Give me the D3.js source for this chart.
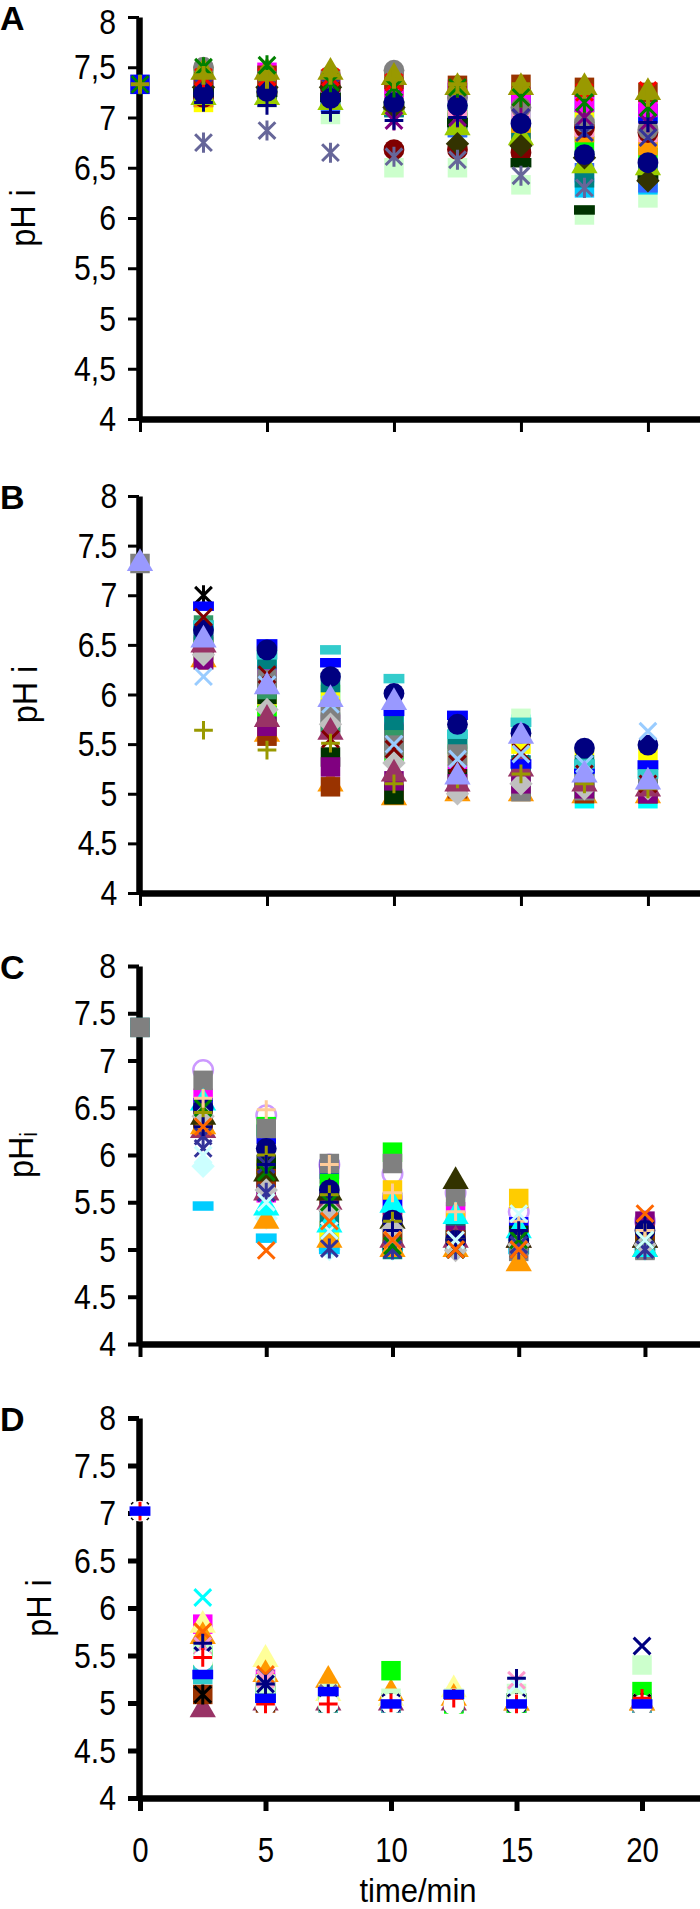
<!DOCTYPE html>
<html>
<head>
<meta charset="utf-8">
<script src="https://cdn.jsdelivr.net/npm/d3@7"></script>
<style>
  body { margin: 0; background: #fff; }
  svg { display: block; font-family: "Liberation Sans", Arial, sans-serif; }
</style>
</head>
<body>
<svg id="chart"></svg>
<script>
// tick values shared by the four panels
let yTicks = [4, 4.5, 5, 5.5, 6, 6.5, 7, 7.5, 8]
let xTicks = [0, 5, 10, 15, 20]

// sampling times (min) of each panel
let timesA = [0, 2.5, 5, 7.5, 10, 12.5, 15, 17.5, 20]
let timesB = [0, 2.5, 5, 7.5, 10, 12.5, 15, 17.5, 20]
let timesC = [0, 2.5, 5, 7.5, 10, 12.5, 15, 20]
let timesD = [0, 2.5, 5, 7.5, 10, 12.5, 15, 20]

// panel A - one row per cell, drawn bottom row first
let markersA = ["palegreen square", "sky square", "cyan square", "yellow square", "lime square",
  "royal square", "blue square", "amber square", "teal square", "rose square", "magenta square",
  "brown square", "darkred circle", "gray circle", "darkgreen dash", "yellowgreen triangle",
  "darkolive diamond", "purple star", "indigo x", "navy circle", "navy plus", "slate star",
  "red star", "olive triangle", "green star", "olive cross"]
let pHA = [
  [null, 7.2, 7.2, 7.03, 6.5, 6.5, 6.33, 6.03, 6.2],
  [null, 7.25, 7.25, 7.2, 7.1, 6.9, 6.8, 6.3, 6.33],
  [null, 7.28, 7.3, 7.25, 7.2, 7.05, 7.05, 7.0, 6.93],
  [null, 7.15, 7.2, 7.2, 7.1, 6.95, 6.85, 6.98, 6.75],
  [null, 7.4, 7.32, 7.3, 7.2, 7.05, 6.9, 6.72, 6.6],
  [null, 7.2, 7.2, 7.15, 7.1, 6.9, 6.75, 6.45, 6.35],
  [7.33, 7.32, 7.36, 7.3, 7.3, 7.25, 7.2, 7.15, 7.04],
  [null, 7.2, 7.25, 7.25, 7.2, 6.98, 6.82, 6.85, 6.72],
  [null, 7.25, 7.25, 7.2, 7.1, 6.95, 6.75, 6.4, 6.45],
  [null, 7.3, 7.35, 7.3, 7.25, 7.1, 7.0, 6.9, 6.85],
  [null, 7.3, 7.45, 7.35, 7.3, 7.28, 7.2, 7.15, 7.1],
  [null, 7.42, 7.42, 7.38, 7.38, 7.32, 7.33, 7.3, 7.25],
  [null, 7.2, 7.25, 7.3, 6.68, 6.68, 6.65, 6.9, 6.85],
  [null, 7.5, 7.42, 7.42, 7.47, 7.2, 7.1, 6.95, 6.88],
  [null, 7.25, 7.25, 7.2, 7.12, 6.95, 6.55, 6.08, 6.41],
  [null, 7.2, 7.2, 7.15, 7.1, 6.9, 6.8, 6.52, 6.5],
  [null, 7.3, 7.3, 7.3, 7.1, 6.74, 6.72, 6.6, 6.37],
  [null, 7.3, 7.3, 7.3, 6.97, 7.0, 7.0, 7.0, 6.95],
  [null, 7.3, 7.3, 7.3, 7.2, 7.2, 7.0, 6.85, 6.8],
  [null, 7.24, 7.26, 7.19, 7.15, 7.12, 6.94, 6.63, 6.55],
  [null, 7.15, 7.12, 7.05, 6.97, 7.0, 6.95, 6.9, 6.95],
  [null, 6.75, 6.87, 6.65, 6.61, 6.58, 6.42, 6.3, null],
  [null, 7.4, 7.4, 7.4, 7.35, 7.3, 7.2, 7.25, 7.27],
  [null, 7.45, 7.45, 7.45, 7.4, 7.3, 7.3, 7.3, 7.25],
  [7.33, 7.5, 7.52, 7.35, 7.3, 7.3, 7.2, 7.15, 7.1],
  [7.33, 7.42, 7.38, 7.42, 7.38, 7.33, 7.33, 7.28, 7.2]
]

// panel B
let markersB = ["black star", "white circle", "amber triangle", "cyan square", "palegreen square",
  "yellow square", "lime square", "magenta square", "brown square", "darkgreen square",
  "seagreen square", "teal square", "gray square", "gray square", "purple square", "silver diamond",
  "plum triangle", "blue dash", "aqua dash", "navy circle", "darkred x", "lightblue x", "olive plus",
  "lavender triangle"]
let pHB = [
  [null, 7.0, 6.4, 6.0, 5.5, 5.4, 5.3, 5.2, 5.2],
  [null, 6.4, 5.9, 5.4, 5.1, 4.99, 5.05, 5.0, 5.0],
  [null, 6.35, 5.6, 5.1, 4.96, 5.0, 5.0, 4.98, 4.98],
  [null, 6.6, 6.25, 6.0, 5.7, 5.5, 5.7, 4.95, 4.95],
  [null, 6.5, 5.8, 5.7, 5.5, 5.6, 5.76, 5.2, 5.1],
  [null, 6.45, 5.88, 6.0, 5.6, 5.4, 5.5, 5.35, 5.36],
  [null, 6.48, 5.79, 5.65, 5.4, 5.2, 5.2, 5.1, 5.05],
  [null, 6.65, 6.2, 5.7, 5.62, 5.2, 5.22, 5.22, 5.15],
  [null, 6.35, 5.58, 5.07, 5.0, 5.05, 5.05, 5.0, 5.0],
  [null, 6.5, 6.0, 5.37, 4.99, 5.15, 5.05, 5.05, 5.05],
  [null, 6.7, 6.05, 5.72, 5.6, 5.5, 5.2, 5.25, 5.1],
  [null, 6.62, 6.35, 6.12, 5.74, 5.55, 5.29, 5.29, 5.15],
  [7.32, 6.4, 6.15, 5.8, 5.49, 5.38, 5.02, 5.03, 5.22],
  [null, 6.45, 6.1, 5.85, 5.45, 5.4, 5.05, 5.1, 5.05],
  [null, 6.35, 5.68, 5.27, 5.13, 5.1, 5.1, 5.05, 5.0],
  [null, 6.4, 5.85, 5.7, 5.31, 5.0, 5.1, 5.05, 5.05],
  [null, 6.5, 5.75, 5.62, 5.2, 5.1, 5.25, 5.1, 5.05],
  [null, 6.89, 6.51, 6.32, 5.83, 5.79, 5.3, 5.25, 5.29],
  [null, 6.7, 6.4, 6.45, 6.16, 5.6, 5.72, 5.3, 5.2],
  [null, 6.65, 6.45, 6.18, 6.01, 5.7, 5.61, 5.46, 5.49],
  [null, 6.78, 6.2, 5.55, 5.45, 5.3, 5.42, 5.2, 5.1],
  [null, 6.18, 6.1, 5.9, 5.5, 5.35, 5.4, 5.3, 5.63],
  [null, 5.64, 5.44, 5.51, 5.1, 5.15, 5.2, 5.1, 5.05],
  [7.32, 6.55, 6.08, 5.95, 5.92, 5.17, 5.58, 5.19, 5.12]
]

// panel C
let markersC = ["paleblue diamond", "sky dash", "violet ring", "magenta square", "blue square",
  "lime square", "gold square", "yellow square", "teal square", "darkgreen square", "purple square",
  "brown square", "gray square", "plum triangle", "amber triangle", "darkolive triangle",
  "cyan triangle", "navy circle", "silver diamond", "indigo x", "indigo star", "green x",
  "olive plus", "tan plus", "navy plus", "paleblue x", "orange x"]
let pHC = [
  [null, 5.88, 5.33, 5.0, 5.0, 5.0, 5.1, 5.0],
  [null, 5.46, 5.12, 5.0, 5.0, 5.0, 5.0, 5.0],
  [null, 6.9, 6.42, 5.9, 5.8, 5.6, 5.4, 5.3],
  [null, 6.6, 5.6, 5.8, 5.47, 5.4, 5.2, 5.1],
  [null, 6.5, 6.22, 5.85, 5.5, 5.2, 5.24, 5.2],
  [null, 6.45, 6.3, 5.7, 6.03, 5.1, 5.1, 5.1],
  [null, 6.4, 5.85, 5.2, 5.63, 5.3, 5.54, 5.2],
  [null, 6.35, 5.8, 5.15, 5.3, 5.1, 5.1, 5.1],
  [7.35, 6.4, 5.7, 5.33, 5.0, 5.22, 5.05, 5.0],
  [null, 6.3, 5.9, 5.5, 5.1, 5.1, 5.15, 5.1],
  [null, 6.45, 5.65, 5.5, 5.3, 5.15, 5.1, 5.3],
  [null, 6.3, 5.75, 5.5, 5.15, 5.1, 5.1, 5.15],
  [7.35, 6.79, 6.28, 5.91, 5.91, 5.56, 4.98, 4.99],
  [null, 6.26, 5.6, 5.5, 5.1, 5.1, 5.1, 5.1],
  [null, 6.3, 5.3, 5.1, 5.0, 5.0, 4.85, 5.0],
  [null, 6.4, 5.8, 5.6, 5.3, 5.72, 5.1, 5.1],
  [null, 6.55, 5.44, 5.26, 5.47, 5.35, 5.2, 5.0],
  [null, 6.5, 6.07, 5.63, 5.31, 5.1, 5.1, 5.2],
  [null, 6.41, 5.63, 5.42, 5.22, 4.99, 5.05, 5.05],
  [null, 6.07, 5.9, 5.2, 5.0, 5.0, 5.05, 5.1],
  [null, 6.2, 5.6, 5.01, 5.0, 5.0, 5.0, 5.0],
  [null, 6.5, 5.82, 5.5, 5.04, 5.0, 5.1, 5.1],
  [null, 6.45, 6.0, 5.58, 5.3, 5.1, 5.2, 5.2],
  [null, 6.6, 6.48, 5.9, 5.6, 5.4, 5.3, 5.2],
  [null, 6.3, 5.9, 5.5, 5.2, 5.1, 5.2, 5.29],
  [null, 6.0, 5.5, 5.2, 5.1, 5.1, 5.38, 5.1],
  [null, 6.3, 4.99, 5.3, 5.1, 5.0, 5.0, 5.38]
]

// panel D
let markersD = ["plum triangle", "brown square", "magenta square", "seagreen square", "aqua square",
  "lightyellow triangle", "amber triangle", "lime square", "palegreen square", "orange x", "slate x",
  "rose x", "paleblue x", "navy plus", "black star", "cyan x", "navy x", "white circle", "red plus",
  "blue dash"]
let pHD = [
  [null, 4.93, 5.0, 5.0, 5.0, 5.0, 5.0, 5.0],
  [null, 5.09, 5.0, 5.0, 5.0, 5.0, 5.0, 5.0],
  [null, 5.83, 5.25, 5.1, 5.0, 5.0, 5.0, 5.0],
  [null, 5.45, 5.2, 5.05, 5.0, 5.0, 5.0, 5.0],
  [null, 5.3, 5.05, 5.0, 5.0, 5.0, 5.0, 5.0],
  [null, 5.82, 5.46, 5.1, 5.05, 5.14, 5.0, 5.0],
  [null, 5.7, 5.3, 5.24, 5.1, 5.05, 5.0, 5.0],
  [null, 5.5, 5.1, 5.05, 5.34, 4.99, 5.0, 5.12],
  [null, 5.5, 5.2, 5.1, 5.05, 5.05, 5.1, 5.4],
  [null, 5.75, 5.3, 5.1, 5.0, 5.0, 5.0, 5.0],
  [null, 5.6, 5.26, 5.1, 5.0, 5.0, 5.0, 5.0],
  [null, 5.6, 5.25, 5.05, 5.0, 5.0, 5.24, 5.0],
  [null, 5.5, 5.2, 5.05, 5.0, 5.0, 5.19, 5.0],
  [null, 5.63, 5.2, 5.1, 5.0, 5.05, 5.26, 5.0],
  [7.02, 5.09, 5.0, 5.0, 5.0, 5.0, 5.0, 5.0],
  [null, 6.11, null, null, null, null, null, null],
  [null, 5.5, 5.2, 5.05, 5.0, 5.0, 5.0, 5.6],
  [7.02, 5.45, 4.98, 4.99, 4.99, 4.98, 4.99, 4.98],
  [7.02, 5.48, 4.99, 4.99, 5.0, 5.05, 4.99, 5.05],
  [7.02, 5.3, 5.05, 5.12, 4.99, 5.09, 4.99, 4.99]
]

// excel style marker colours
let palette = {
  navy: "#000080", slate: "#666699", indigo: "#333399", olive: "#999900", green: "#008000",
  brown: "#993300", magenta: "#ff00ff", blue: "#0000ff", cyan: "#00ffff", lime: "#00ff00",
  yellow: "#ffff00", darkred: "#800000", purple: "#800080", palegreen: "#ccffcc",
  darkgreen: "#003300", darkolive: "#333300", gray: "#808080", silver: "#c0c0c0",
  orange: "#ff6600", gold: "#ffcc00", teal: "#008080", seagreen: "#339966", paleblue: "#ccffff",
  sky: "#00ccff", lavender: "#9999ff", lightblue: "#99ccff", plum: "#993366", tan: "#ffcc99",
  amber: "#ff9900", red: "#ff0000", black: "#000000", rose: "#ff99cc", aqua: "#33cccc",
  lightyellow: "#ffff99", royal: "#3366ff", yellowgreen: "#99cc00", violet: "#cc99ff",
  white: "#ffffff"
}

// extra marker shapes that d3 does not have
let symbolDash = {
  draw: function(ctx, size) {
    let w = Math.sqrt(size)
    ctx.rect(-w * 0.55, -w * 0.25, w * 1.1, w * 0.5)
  }
}
let symbolX = {
  draw: function(ctx, size) {
    let r = Math.sqrt(size) / 2
    ctx.moveTo(-r, -r); ctx.lineTo(r, r)
    ctx.moveTo(r, -r); ctx.lineTo(-r, r)
  }
}
let symbolStar = {
  draw: function(ctx, size) {
    let r = Math.sqrt(size) / 2
    ctx.moveTo(-r, -r); ctx.lineTo(r, r)
    ctx.moveTo(r, -r); ctx.lineTo(-r, r)
    ctx.moveTo(0, -r * 1.2); ctx.lineTo(0, r * 1.2)
  }
}
let symbolPlusLine = {
  draw: function(ctx, size) {
    let r = Math.sqrt(size) / 2
    ctx.moveTo(-r, 0); ctx.lineTo(r, 0)
    ctx.moveTo(0, -r); ctx.lineTo(0, r)
  }
}

let shapes = {
  square:   { type: d3.symbolSquare, size: 380, filled: true },
  circle:   { type: d3.symbolCircle, size: 340, filled: true },
  diamond:  { type: d3.symbolDiamond2, size: 350, filled: true },
  triangle: { type: d3.symbolTriangle, size: 300, filled: true },
  dash:     { type: symbolDash, size: 360, filled: true },
  ring:     { type: d3.symbolCircle, size: 300, filled: false, width: 2.5 },
  x:        { type: symbolX, size: 280, filled: false, width: 3 },
  star:     { type: symbolStar, size: 280, filled: false, width: 3 },
  plus:     { type: symbolPlusLine, size: 350, filled: false, width: 3 },
  cross:    { type: symbolPlusLine, size: 350, filled: false, width: 4 }
}

let panels = [
  { letter: "A", times: timesA, values: pHA, markers: markersA, top: 17, bottom: 419, xMax: 22.05, sep: ",", tick: 3, titleX: 22 },
  { letter: "B", times: timesB, values: pHB, markers: markersB, top: 496, bottom: 893, xMax: 22.05, sep: ".", tick: 3, titleX: 24 },
  { letter: "C", times: timesC, values: pHC, markers: markersC, top: 966, bottom: 1344, xMax: 22.18, sep: ".", tick: 4, titleX: 20, sub: true },
  { letter: "D", times: timesD, values: pHD, markers: markersD, top: 1418, bottom: 1798, xMax: 22.31, sep: ".", tick: 5, titleX: 38, xLabels: true }
]

let width = 700
let height = 1909
let axisX = 139
let fontSize = 36
let squeeze = 0.84   // the figure's lettering is narrow

let svg = d3.select("#chart")
svg.attr("width", width).attr("height", height)

let drawPanel = function(p) {
  let g = svg.append("g")

  let xScale = d3.scaleLinear().domain([0, p.xMax]).range([axisX + 1, width])
  let yScale = d3.scaleLinear().domain([4, 8]).range([p.bottom, p.top])

  // x axis, labels only on the last panel
  let xAxis = d3.axisBottom(xScale)
    .tickValues(xTicks)
    .tickSize(13)
    .tickSizeOuter(0)
    .tickFormat(p.xLabels ? d3.format("d") : () => "")
  let gx = g.append("g")
    .attr("transform", "translate(0," + p.bottom + ")")
    .call(xAxis)
  gx.select(".domain").attr("stroke-width", 6.5)
  gx.selectAll(".tick line").attr("stroke-width", p.tick)
  gx.selectAll(".tick text")
    .attr("y", 52)
    .attr("dy", "0.35em")
    .attr("transform", "scale(" + squeeze + ",1)")
    .attr("font-size", 35)
    .attr("font-family", "Liberation Sans, Arial, sans-serif")
    .attr("fill", "#000")

  // y axis
  let yAxis = d3.axisLeft(yScale)
    .tickValues(yTicks)
    .tickSize(11)
    .tickPadding(12)
    .tickSizeOuter(0)
    .tickFormat((v) => String(v).replace(".", p.sep))
  let gy = g.append("g")
    .attr("transform", "translate(" + axisX + ",0)")
    .call(yAxis)
  gy.select(".domain").attr("stroke-width", 6.5)
  gy.selectAll(".tick line").attr("stroke-width", p.tick)
  gy.selectAll(".tick text")
    .attr("x", -23 / squeeze)
    .attr("transform", "scale(" + squeeze + ",1)")
    .attr("letter-spacing", p.letter === "B" ? -1.5 : 0)
    .attr("font-size", fontSize)
    .attr("font-family", "Liberation Sans, Arial, sans-serif")
    .attr("fill", "#000")
  // keep the top label of the first panel inside the page
  if (p.top < 20) {
    gy.selectAll(".tick text").filter((v) => v === 8).attr("dy", "0.45em")
  }

  // flatten rows into points
  let points = []
  p.values.forEach((row, i) => {
    let parts = p.markers[i].split(" ")
    row.forEach((v, j) => {
      if (v == null) return
      points.push({ t: p.times[j], v: v, color: palette[parts[0]], shape: shapes[parts[1]] })
    })
  })

  g.append("g")
    .selectAll("path")
    .data(points)
    .enter()
    .append("path")
    .attr("d", (d) => d3.symbol().type(d.shape.type).size(d.shape.size)())
    .attr("transform", (d) => "translate(" + xScale(d.t) + "," + yScale(d.v) + ")")
    .attr("fill", (d) => d.shape.filled ? d.color : (d.shape.type === d3.symbolCircle ? "#fff" : "none"))
    .attr("stroke", (d) => d.shape.filled ? "none" : d.color)
    .attr("stroke-width", (d) => d.shape.width || 0)

  // panel letter
  g.append("text")
    .attr("x", 0)
    .attr("y", p.top + 13)
    .attr("font-size", 34)
    .attr("font-weight", "bold")
    .text(p.letter)

  // y axis title
  let mid = (p.top + p.bottom) / 2
  let title = g.append("text")
    .attr("transform", "translate(" + p.titleX + "," + mid + ") rotate(-90) scale(0.9,1)")
    .attr("text-anchor", "middle")
    .attr("dominant-baseline", "central")
    .attr("font-size", fontSize)
  if (p.sub) {
    title.append("tspan").text("pH")
    title.append("tspan").attr("font-size", 24).attr("dy", 9).text("i")
  } else {
    title.text("pH i")
  }
}

panels.forEach(drawPanel)

// shared x axis title
svg.append("text")
  .attr("transform", "translate(418,1902) scale(0.94,1)")
  .attr("text-anchor", "middle")
  .attr("font-size", 33)
  .text("time/min")
</script>
</body>
</html>
